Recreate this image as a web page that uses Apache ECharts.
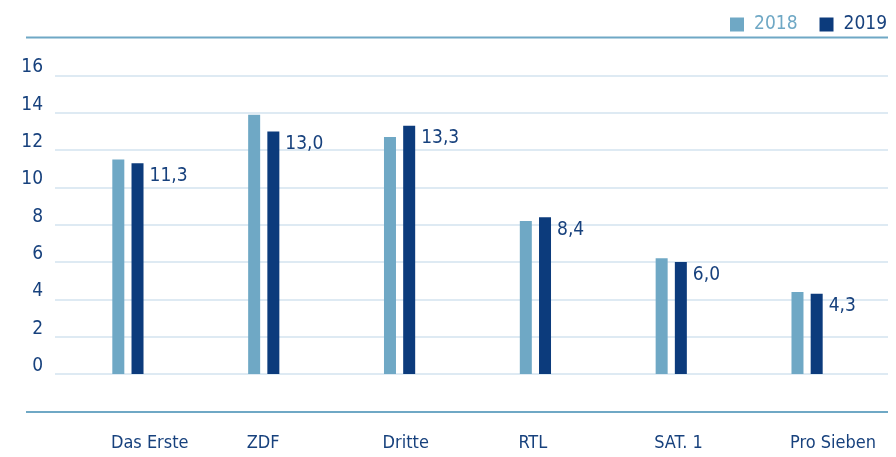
<!DOCTYPE html>
<html lang="de">
<head>
    <meta charset="UTF-8">
    <title>Sender 2018 / 2019</title>
    <script src="https://cdn.jsdelivr.net/npm/echarts/dist/echarts.min.js"></script>
    <style>
        * { margin: 0; padding: 0; }
        body { background: #fff; }
        #chart { width: 896px; height: 457px; }
    </style>
</head>
<body>
    <div id="chart"></div>
    <script>
        const categories = ['Das Erste', 'ZDF', 'Dritte', 'RTL', 'SAT. 1', 'Pro Sieben'];
        const values2018 = [11.5, 13.9, 12.7, 8.2, 6.2, 4.4];
        const values2019 = [11.3, 13.0, 13.3, 8.4, 6.0, 4.3];
        const yTicks = [0, 2, 4, 6, 8, 10, 12, 14, 16];

        const light = '#6fa8c5';
        const dark = '#0c3b7c';
        const textDark = '#17417d';
        const font = '"DejaVu Sans Condensed", "Liberation Sans Narrow", sans-serif';

        const chart = echarts.init(document.getElementById('chart'));
        chart.setOption({
            animation: false,
            textStyle: { fontFamily: font },
            legend: {
                right: 4,
                top: 10,
                itemWidth: 14,
                itemHeight: 14,
                itemGap: 22,
                icon: 'rect',
                textStyle: { fontSize: 19, fontFamily: font, padding: [0, 0, 0, 5] },
                data: [
                    { name: '2018', textStyle: { color: light } },
                    { name: '2019', textStyle: { color: textDark } }
                ]
            },
            graphic: [
                { type: 'line', shape: { x1: 26, y1: 37.5, x2: 888, y2: 37.5 }, style: { stroke: light, lineWidth: 2 } },
                { type: 'line', shape: { x1: 26, y1: 412, x2: 888, y2: 412 }, style: { stroke: light, lineWidth: 2 } }
            ],
            grid: [
                // y scale and gridlines
                { left: 55, right: 8, top: 75.5, bottom: 83 },
                // bars
                { left: 60, right: 21, top: 75.5, bottom: 83 },
                // category labels, shifted left so they start at the bar group
                { left: 43, right: 38, top: 75.5, bottom: 83 }
            ],
            xAxis: [
                { gridIndex: 0, type: 'category', data: categories, show: false },
                { gridIndex: 1, type: 'category', data: categories, show: false },
                {
                    gridIndex: 2, type: 'category', data: categories,
                    axisLine: { show: false }, axisTick: { show: false },
                    axisLabel: {
                        align: 'left', margin: 60, fontSize: 18,
                        color: textDark, fontFamily: font, interval: 0
                    }
                }
            ],
            yAxis: [
                {
                    gridIndex: 0, type: 'value', min: yTicks[0], max: yTicks[yTicks.length - 1], interval: 2,
                    axisLine: { show: false }, axisTick: { show: false },
                    splitLine: { lineStyle: { color: '#d3e3ef', width: 1.5 } },
                    axisLabel: {
                        margin: 12, fontSize: 19, color: textDark, fontFamily: font,
                        verticalAlign: 'bottom', lineHeight: 16
                    }
                },
                { gridIndex: 1, type: 'value', min: 0, max: 16, show: false },
                { gridIndex: 2, type: 'value', min: 0, max: 16, show: false }
            ],
            series: [
                {
                    name: '2018', type: 'bar', xAxisIndex: 1, yAxisIndex: 1,
                    data: values2018, barWidth: 12, barGap: '60%',
                    itemStyle: { color: light }
                },
                {
                    name: '2019', type: 'bar', xAxisIndex: 1, yAxisIndex: 1,
                    data: values2019, barWidth: 12, barGap: '60%',
                    itemStyle: { color: dark },
                    label: {
                        show: true, position: [18, 3], align: 'left', verticalAlign: 'top',
                        fontSize: 19, color: textDark, fontFamily: font,
                        formatter: p => p.value.toFixed(1).replace('.', ',')
                    }
                }
            ]
        });
    </script>
</body>
</html>
